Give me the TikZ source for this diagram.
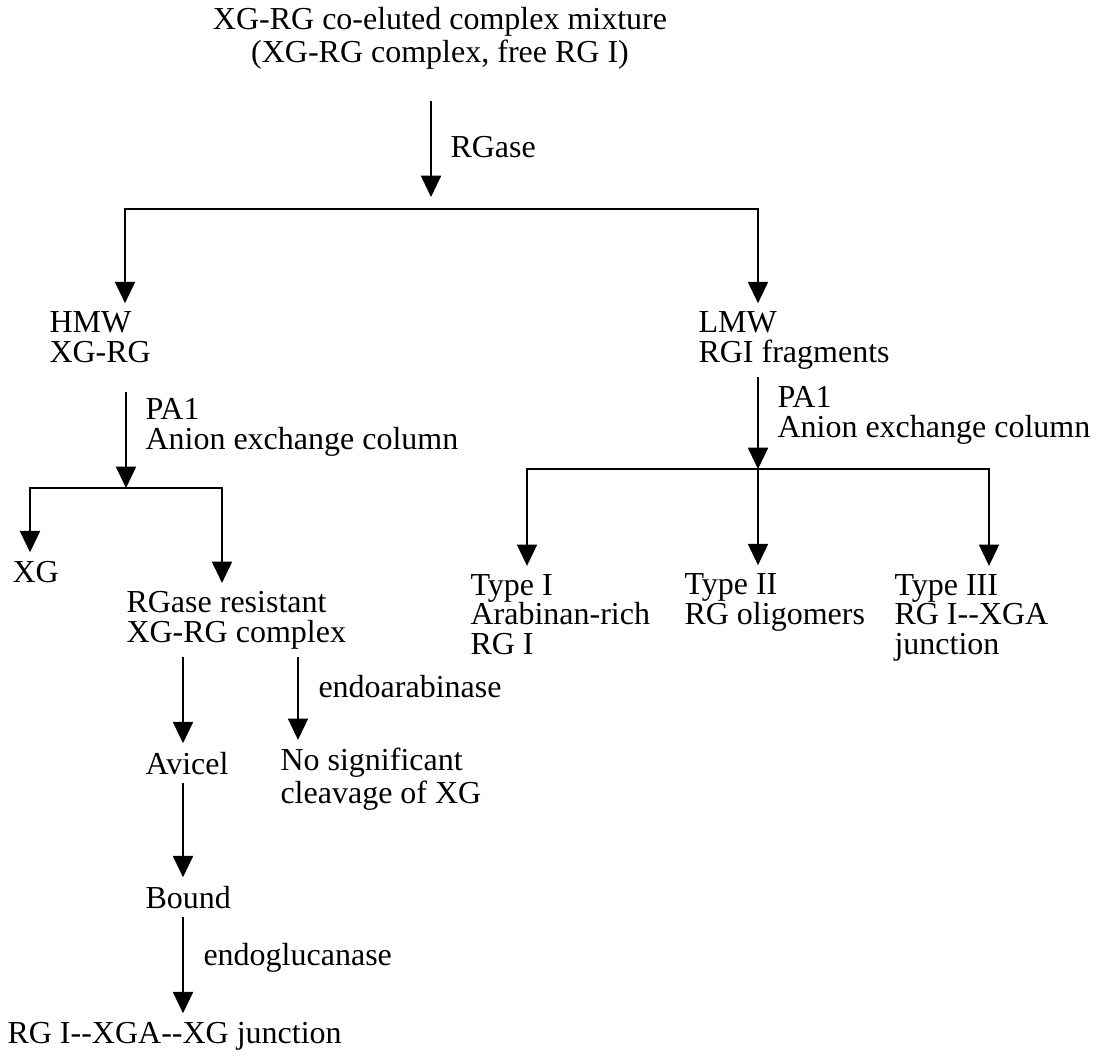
\documentclass[tikz,border=0pt]{standalone}
\usepackage{fontspec}
\setmainfont{Liberation Serif}
\usetikzlibrary{positioning,arrows.meta}

\begin{document}
\begin{tikzpicture}[
    x=0.375pt, y=-0.375pt,
    font=\fontsize{12}{11}\selectfont,
    every node/.style = {inner xsep=0pt, inner ysep=3pt},
    item/.style       = {anchor=base west, align=left},
    arr/.style        = {-{Triangle[width=7.5pt,length=8pt]}, line width=0.75pt}
]
\useasboundingbox (0,0) rectangle (1097,1055);

% starting material (multi-line nodes sit on their last baseline)
\node[anchor=base, align=center] (mix) at (440,62)
    {XG-RG co-eluted complex mixture\\(XG-RG complex, free RG I)};

% RGase digest
\coordinate (split0) at (431,209);
\node[item] (rgase) at (450,157) {RGase};
\node[item] (hmw)   at (49,362)  {HMW\\XG-RG};
\node[item] (lmw)   at (698,362) {LMW\\RGI fragments};

\draw[arr, shorten <=9pt, shorten >=4.5pt] (mix.south -| split0) -- (split0);
\draw[arr] (split0) -| (hmw.north -| 125,0);
\draw[arr] (split0) -| (lmw.north -| 758,0);

% HMW side
\coordinate (split1) at (126,488);
\node[item] (pa1l)     at (145,449) {PA1\\Anion exchange column};
\node[item] (xg)       at (12,582)  {XG};
\node[item] (resist)   at (126,642) {RGase resistant\\XG-RG complex};
\node[item] (arabin)   at (318,697) {endoarabinase};
\node[item] (avicel)   at (145,774) {Avicel};
\node[item] (nocleave) at (280,803) {No significant\\cleavage of XG};
\node[item] (bound)    at (145,908) {Bound};
\node[item] (glucan)   at (203,965) {endoglucanase};
\node[item] (junction) at (7,1043)  {RG I-{}-XGA-{}-XG junction};

\draw[arr, shorten <=8pt] (hmw.south -| split1) -- (split1);
\draw[arr] (split1) -| (xg.north -| 30,0);
\draw[arr] (split1) -| (resist.north -| 222,0);
\draw[arr] (resist.south -| 183,0) -- (avicel.north -| 183,0);
\draw[arr] (resist.south -| 298,0) -- (nocleave.north -| 298,0);
\draw[arr] (avicel.south -| 183,0) -- (bound.north -| 183,0);
\draw[arr] (bound.south -| 183,0) -- (junction.north -| 183,0);

% LMW side
\coordinate (split2) at (758,469);
\node[item] (pa1r)  at (777,437) {PA1\\Anion exchange column};
\node[item] (type1) at (470,654) {Type I\\Arabinan-rich\\RG I};
\node[item] (type2) at (684,624) {Type II\\RG oligomers};
\node[item] (type3) at (894,654) {Type III\\RG I-{}-XGA\\junction};

\draw[arr] (lmw.south -| split2) -- (split2);
\draw[arr] (split2) -| (type1.north -| 527,0);
\draw[arr] (split2) -- (type2.north -| split2);
\draw[arr] (split2) -| (type3.north -| 989,0);

\end{tikzpicture}
\end{document}
